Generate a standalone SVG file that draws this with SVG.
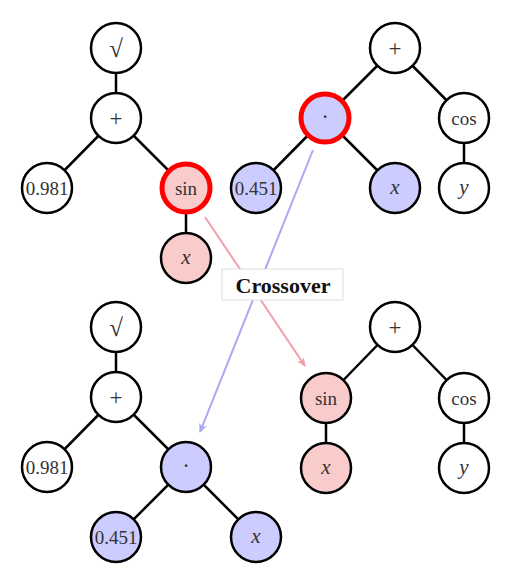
<svg xmlns="http://www.w3.org/2000/svg" width="514" height="588" viewBox="0 0 514 588">
<defs>
<marker id="ahR" markerWidth="10" markerHeight="10" refX="8" refY="5" orient="auto" markerUnits="userSpaceOnUse">
<path d="M0,1 L9,5 L0,9 L2,5 Z" fill="#f0a0a8"/>
</marker>
<marker id="ahB" markerWidth="10" markerHeight="10" refX="8" refY="5" orient="auto" markerUnits="userSpaceOnUse">
<path d="M0,1 L9,5 L0,9 L2,5 Z" fill="#a8a8f4"/>
</marker>
</defs>
<style>
.n{stroke:#000;stroke-width:2.5;fill:#fff}
.r{fill:#f9cbcb}
.b{fill:#ccccff}
.hl{stroke:#ff0000;stroke-width:5}
.e{stroke:#000;stroke-width:2.5;fill:none}
text{font-family:"Liberation Serif","DejaVu Serif",serif;font-size:19px;fill:#333;text-anchor:middle;dominant-baseline:central}
.m{font-style:italic;font-size:21px}
.op{font-size:23px}
.sq{font-size:25px}
.lbl{font-weight:bold;fill:#111;font-size:22px}
</style>
<rect width="514" height="588" fill="#fff"/>
<g id="edges">
<line class="e" x1="116" y1="48" x2="116" y2="118"/>
<line class="e" x1="116" y1="118" x2="47" y2="188"/>
<line class="e" x1="116" y1="118" x2="186" y2="188"/>
<line class="e" x1="186" y1="188" x2="186" y2="258"/>
<line class="e" x1="395" y1="48" x2="325" y2="118"/>
<line class="e" x1="395" y1="48" x2="464" y2="118"/>
<line class="e" x1="325" y1="118" x2="256" y2="188"/>
<line class="e" x1="325" y1="118" x2="395" y2="188"/>
<line class="e" x1="464" y1="118" x2="464" y2="188"/>
<line class="e" x1="116" y1="327" x2="116" y2="397"/>
<line class="e" x1="116" y1="397" x2="47" y2="467"/>
<line class="e" x1="116" y1="397" x2="186" y2="467"/>
<line class="e" x1="186" y1="467" x2="116" y2="537"/>
<line class="e" x1="186" y1="467" x2="256" y2="537"/>
<line class="e" x1="395" y1="327" x2="326" y2="398"/>
<line class="e" x1="395" y1="327" x2="464" y2="398"/>
<line class="e" x1="326" y1="398" x2="326" y2="468"/>
<line class="e" x1="464" y1="398" x2="464" y2="468"/>
</g>
<g id="crossover-arrows">
<line x1="205" y1="217" x2="305" y2="366" stroke="#f0a0a8" stroke-width="2" marker-end="url(#ahR)"/>
<line x1="313" y1="150" x2="200" y2="432" stroke="#a8a8f4" stroke-width="2" marker-end="url(#ahB)"/>
</g>
<g id="label-crossover">
<rect x="222" y="269" width="121" height="31" fill="#fff" stroke="#ddd" stroke-width="1"/>
<text class="lbl" x="283" y="285">Crossover</text>
</g>
<g id="t1-sqrt"><circle class="n" cx="116" cy="48" r="25"/><text class="sq" x="116" y="48">√</text></g>
<g id="t1-plus"><circle class="n" cx="116" cy="118" r="25"/><text class="op" x="116" y="118">+</text></g>
<g id="t1-0981"><circle class="n" cx="47" cy="188" r="25"/><text x="47" y="188">0.981</text></g>
<g id="t1-sin"><circle class="n r hl" cx="186" cy="188" r="24"/><text x="186" y="188">sin</text></g>
<g id="t1-x"><circle class="n r" cx="186" cy="258" r="25"/><text class="m" x="186" y="257">x</text></g>
<g id="t2-plus"><circle class="n" cx="395" cy="48" r="25"/><text class="op" x="395" y="48">+</text></g>
<g id="t2-dot"><circle class="n b hl" cx="325" cy="118" r="24"/><text class="op" x="325" y="116">·</text></g>
<g id="t2-cos"><circle class="n" cx="464" cy="118" r="25"/><text x="464" y="118">cos</text></g>
<g id="t2-0451"><circle class="n b" cx="256" cy="188" r="25"/><text x="256" y="188">0.451</text></g>
<g id="t2-x"><circle class="n b" cx="395" cy="188" r="25"/><text class="m" x="395" y="187">x</text></g>
<g id="t2-y"><circle class="n" cx="464" cy="188" r="25"/><text class="m" x="464" y="187">y</text></g>
<g id="t3-sqrt"><circle class="n" cx="116" cy="327" r="25"/><text class="sq" x="116" y="327">√</text></g>
<g id="t3-plus"><circle class="n" cx="116" cy="397" r="25"/><text class="op" x="116" y="397">+</text></g>
<g id="t3-0981"><circle class="n" cx="47" cy="467" r="25"/><text x="47" y="467">0.981</text></g>
<g id="t3-dot"><circle class="n b" cx="186" cy="467" r="25"/><text class="op" x="186" y="465">·</text></g>
<g id="t3-0451"><circle class="n b" cx="116" cy="537" r="25"/><text x="116" y="537">0.451</text></g>
<g id="t3-x"><circle class="n b" cx="256" cy="537" r="25"/><text class="m" x="256" y="536">x</text></g>
<g id="t4-plus"><circle class="n" cx="395" cy="327" r="25"/><text class="op" x="395" y="327">+</text></g>
<g id="t4-sin"><circle class="n r" cx="326" cy="398" r="25"/><text x="326" y="398">sin</text></g>
<g id="t4-cos"><circle class="n" cx="464" cy="398" r="25"/><text x="464" y="398">cos</text></g>
<g id="t4-x"><circle class="n r" cx="326" cy="468" r="25"/><text class="m" x="326" y="467">x</text></g>
<g id="t4-y"><circle class="n" cx="464" cy="468" r="25"/><text class="m" x="464" y="467">y</text></g>
</svg>
